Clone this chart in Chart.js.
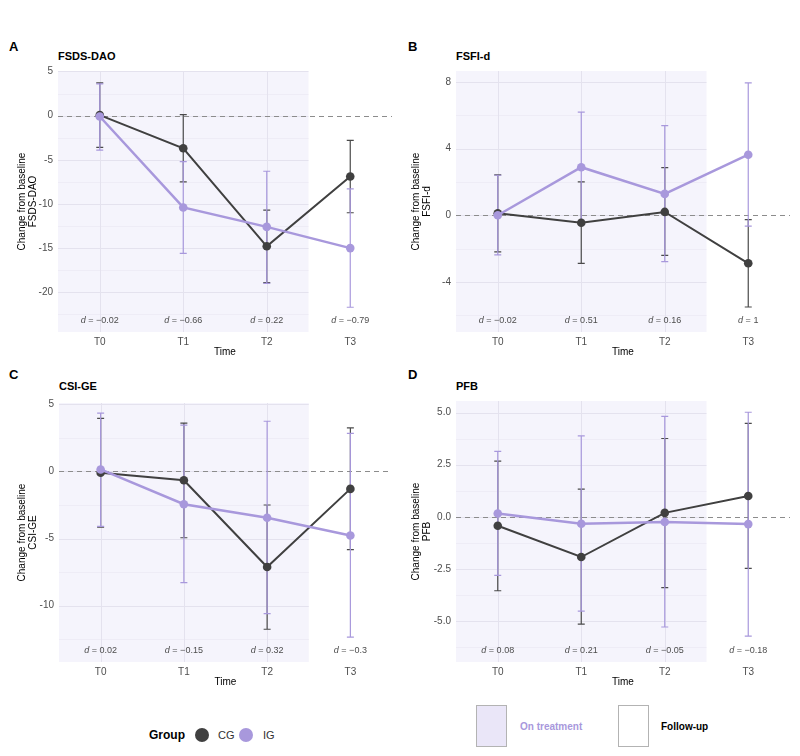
<!DOCTYPE html>
<html>
<head>
<meta charset="utf-8">
<script src="https://cdn.jsdelivr.net/npm/chart.js@4.4.1/dist/chart.umd.min.js"></script>
<style>
  body { margin: 0; width: 800px; height: 756px; position: relative; background: #fff; overflow: hidden;
         font-family: "Liberation Sans", Arial, sans-serif; }
  canvas { position: absolute; }
  .t { position: absolute; white-space: nowrap; line-height: 1; transform: translateY(-50%); }
  .letter { font-weight: bold; font-size: 13px; color: #000; }
  .ptitle { font-weight: bold; font-size: 11px; color: #000; }
  .dot { position: absolute; width: 14px; height: 14px; border-radius: 50%; transform: translate(-50%, -50%); }
  .box { position: absolute; width: 31px; height: 42px; border: 1px solid #b3b3b3; box-sizing: border-box; }
</style>
</head>
<body>
<div class="t letter" style="left:9px;top:46px">A</div>
<div class="t letter" style="left:408px;top:46px">B</div>
<div class="t letter" style="left:9px;top:374px">C</div>
<div class="t letter" style="left:408px;top:374px">D</div>

<div class="t ptitle" style="left:58px;top:56px">FSDS-DAO</div>
<div class="t ptitle" style="left:456px;top:56px">FSFI-d</div>
<div class="t ptitle" style="left:59px;top:386px">CSI-GE</div>
<div class="t ptitle" style="left:456px;top:386px">PFB</div>

<canvas id="cA" width="400" height="305" style="left:0px;top:60px"></canvas>
<canvas id="cB" width="400" height="305" style="left:400px;top:60px"></canvas>
<canvas id="cC" width="400" height="303" style="left:0px;top:392px"></canvas>
<canvas id="cD" width="400" height="305" style="left:400px;top:390px"></canvas>

<!-- legend -->
<div class="t" style="left:149px;top:735px;font-weight:bold;font-size:12px;color:#000">Group</div>
<div class="dot" style="left:202px;top:735px;background:#404040"></div>
<div class="t" style="left:218px;top:735px;font-size:11px;color:#333">CG</div>
<div class="dot" style="left:246px;top:735px;background:#A898DC"></div>
<div class="t" style="left:263px;top:735px;font-size:11px;color:#333">IG</div>

<div class="box" style="left:476px;top:705px;background:#EAE6F8"></div>
<div class="t" style="left:520px;top:727px;font-weight:bold;font-size:10px;color:#A898DC">On treatment</div>
<div class="box" style="left:618px;top:705px;background:#fff"></div>
<div class="t" style="left:661px;top:727px;font-weight:bold;font-size:10px;color:#000">Follow-up</div>

<script>
const times = ['T0', 'T1', 'T2', 'T3'];

// FSDS-DAO
const fsdsCG = [0.05, -3.7, -14.8, -6.9];
const fsdsCGlo = [-3.6, -7.5, -18.9, -11.0];
const fsdsCGhi = [3.7, 0.1, -10.7, -2.8];
const fsdsIG = [-0.1, -10.4, -12.6, -15.0];
const fsdsIGlo = [-3.9, -15.6, -19.0, -21.7];
const fsdsIGhi = [3.6, -5.2, -6.3, -8.3];
const fsdsD = ['−0.02', '−0.66', '0.22', '−0.79'];
const fsdsTicks = [-20, -15, -10, -5, 0, 5];

// FSFI-d
const fsfiCG = [0.12, -0.45, 0.2, -2.88];
const fsfiCGlo = [-2.19, -2.88, -2.4, -5.5];
const fsfiCGhi = [2.42, 2.0, 2.86, -0.26];
const fsfiIG = [0, 2.88, 1.28, 3.63];
const fsfiIGlo = [-2.38, -0.43, -2.78, -0.65];
const fsfiIGhi = [2.4, 6.19, 5.38, 7.94];
const fsfiD = ['−0.02', '0.51', '0.16', '1'];
const fsfiTicks = [-4, 0, 4, 8];

// CSI-GE
const csiCG = [-0.1, -0.66, -7.12, -1.3];
const csiCGlo = [-4.16, -4.94, -11.76, -5.82];
const csiCGhi = [3.96, 3.6, -2.5, 3.25];
const csiIG = [0.15, -2.44, -3.45, -4.77];
const csiIGlo = [-4.1, -8.29, -10.6, -12.35];
const csiIGhi = [4.35, 3.45, 3.74, 2.84];
const csiD = ['0.02', '−0.15', '0.32', '−0.3'];
const csiTicks = [-10, -5, 0, 5];

// PFB
const pfbCG = [-0.43, -1.93, 0.19, 1.0];
const pfbCGlo = [-3.55, -5.15, -3.4, -2.48];
const pfbCGhi = [2.67, 1.33, 3.76, 4.49];
const pfbIG = [0.16, -0.33, -0.25, -0.35];
const pfbIGlo = [-2.81, -4.53, -5.29, -5.73];
const pfbIGhi = [3.14, 3.89, 4.82, 5.02];
const pfbD = ['0.08', '0.21', '−0.05', '−0.18'];
const pfbTicks = [-5, -2.5, 0, 2.5, 5];

const dark = '#404040';
const purple = '#A898DC';
const font = '"Liberation Sans", Arial, sans-serif';

// shading, grid, zero line, error bars, d labels
const panelDecor = {
  id: 'panelDecor',
  beforeDatasetsDraw(chart, args, o) {
    const { ctx, chartArea: a, scales: { x, y } } = chart;
    const edge = (x.getPixelForValue(2) + x.getPixelForValue(3)) / 2;
    ctx.save();
    ctx.fillStyle = '#F5F4FC';
    ctx.fillRect(a.left, a.top, edge - a.left, a.bottom - a.top);

    // grid lines only inside the shaded part
    const half = (o.ticks[1] - o.ticks[0]) / 2;
    let v = o.ticks[0];
    while (v - half >= y.min) v -= half;
    for (; v <= y.max; v += half) {
      const major = o.ticks.some(t => Math.abs(t - v) < 1e-9);
      const py = Math.round(y.getPixelForValue(v)) + 0.5;
      ctx.strokeStyle = major ? '#E4E2EE' : '#ECEAF4';
      ctx.lineWidth = major ? 1 : 0.8;
      ctx.beginPath();
      ctx.moveTo(a.left, py);
      ctx.lineTo(edge, py);
      ctx.stroke();
    }
    for (let i = 0; i < 3; i++) {
      const px = Math.round(x.getPixelForValue(i)) + 0.5;
      ctx.strokeStyle = '#E4E2EE';
      ctx.lineWidth = 1;
      ctx.beginPath();
      ctx.moveTo(px, a.top);
      ctx.lineTo(px, a.bottom);
      ctx.stroke();
    }

    // dashed zero line
    const zy = Math.round(y.getPixelForValue(0)) + 0.5;
    ctx.strokeStyle = '#8c8c8c';
    ctx.lineWidth = 1;
    ctx.setLineDash([5, 4]);
    ctx.beginPath();
    ctx.moveTo(a.left, zy);
    ctx.lineTo(a.right, zy);
    ctx.stroke();
    ctx.setLineDash([]);

    // error bars
    o.bars.forEach(b => {
      ctx.strokeStyle = b.color;
      ctx.lineWidth = 1.2;
      b.lo.forEach((lo, i) => {
        const px = x.getPixelForValue(i);
        const y1 = y.getPixelForValue(lo);
        const y2 = y.getPixelForValue(b.hi[i]);
        ctx.beginPath();
        ctx.moveTo(px, y1); ctx.lineTo(px, y2);
        ctx.moveTo(px - 3.5, y1); ctx.lineTo(px + 3.5, y1);
        ctx.moveTo(px - 3.5, y2); ctx.lineTo(px + 3.5, y2);
        ctx.stroke();
      });
    });
    ctx.restore();
  },
  afterDatasetsDraw(chart, args, o) {
    const { ctx, chartArea: a, scales: { x } } = chart;
    ctx.save();
    ctx.fillStyle = '#4D4D4D';
    ctx.textBaseline = 'middle';
    const yy = a.bottom - 11.5;
    o.d.forEach((txt, i) => {
      const px = x.getPixelForValue(i);
      ctx.font = 'italic 9px ' + font;
      const w1 = ctx.measureText('d').width;
      ctx.font = '9px ' + font;
      const rest = ' = ' + txt;
      const w2 = ctx.measureText(rest).width;
      const start = px - (w1 + w2) / 2;
      ctx.font = 'italic 9px ' + font;
      ctx.fillText('d', start, yy);
      ctx.font = '9px ' + font;
      ctx.fillText(rest, start + w1, yy);
    });
    ctx.restore();
  }
};

const makePanel = (id, name, cg, cgLo, cgHi, ig, igLo, igHi, dVals, yTicks, dec, yMin, yMax, yWidth, rightPad, titlePad) => {
  new Chart(document.getElementById(id), {
    type: 'line',
    data: {
      labels: times,
      datasets: [
        { label: 'IG', data: ig, borderColor: purple, backgroundColor: purple, borderWidth: 2.5,
          pointRadius: 4.3, pointBorderWidth: 0, tension: 0, order: 0 },
        { label: 'CG', data: cg, borderColor: dark, backgroundColor: dark, borderWidth: 2,
          pointRadius: 4.3, pointBorderWidth: 0, tension: 0, order: 1 }
      ]
    },
    options: {
      responsive: false,
      animation: false,
      layout: { padding: { top: 7, right: rightPad, bottom: 0, left: 0 } },
      plugins: {
        legend: { display: false },
        tooltip: { enabled: false },
        panelDecor: {
          ticks: yTicks,
          d: dVals,
          bars: [
            { lo: cgLo, hi: cgHi, color: '#4a4a4a' },
            { lo: igLo, hi: igHi, color: purple }
          ]
        }
      },
      scales: {
        x: {
          type: 'category',
          offset: true,
          grid: { display: false, drawTicks: false },
          border: { display: false },
          ticks: { color: '#4D4D4D', font: { size: 10, family: font }, padding: 4 },
          title: { display: true, text: 'Time', color: '#000', font: { size: 10, family: font },
                   padding: { top: 0, bottom: 7 } },
          afterFit: s => { s.height = 33; }
        },
        y: {
          min: yMin,
          max: yMax,
          grid: { display: false, drawTicks: false },
          border: { display: false },
          ticks: {
            includeBounds: false,
            color: '#4D4D4D',
            font: { size: 10, family: font },
            padding: 5,
            callback: v => v.toFixed(dec)
          },
          afterBuildTicks: s => { s.ticks = yTicks.map(v => ({ value: v })); },
          title: { display: true, text: ['Change from baseline', name], color: '#000',
                   font: { size: 10, family: font, lineHeight: 1.15 }, padding: { top: titlePad, bottom: 0 } },
          afterFit: s => { s.width = yWidth; }
        }
      }
    },
    plugins: [panelDecor]
  });
};

makePanel('cA', 'FSDS-DAO', fsdsCG, fsdsCGlo, fsdsCGhi, fsdsIG, fsdsIGlo, fsdsIGhi, fsdsD, fsdsTicks, 0, -24.5, 5.05, 58, 8, 16);
makePanel('cB', 'FSFI-d', fsfiCG, fsfiCGlo, fsfiCGhi, fsfiIG, fsfiIGlo, fsfiIGhi, fsfiD, fsfiTicks, 0, -7.0, 8.65, 56, 10, 10);
makePanel('cC', 'CSI-GE', csiCG, csiCGlo, csiCGhi, csiIG, csiIGlo, csiIGhi, csiD, csiTicks, 0, -14.2, 5.1, 59, 8, 16);
makePanel('cD', 'PFB', pfbCG, pfbCGlo, pfbCGhi, pfbIG, pfbIGlo, pfbIGhi, pfbD, pfbTicks, 1, -6.97, 5.56, 56, 10, 10);
</script>
</body>
</html>
